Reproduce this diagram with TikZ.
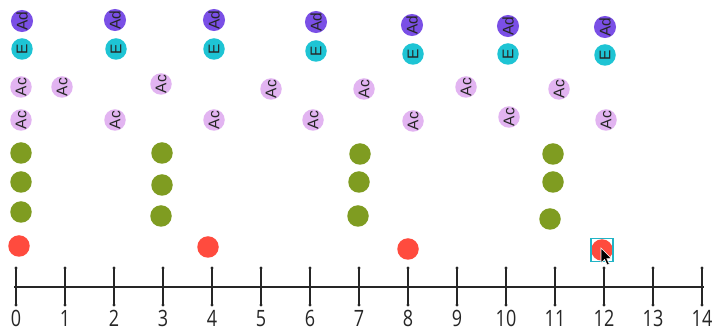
\documentclass[tikz,border=0pt]{standalone}
\usepackage{fontspec}
\setmainfont{Open Sans}
\newfontfamily\arialf{Liberation Sans}
\definecolor{adc}{HTML}{7A4FE6}
\definecolor{ec}{HTML}{1EC4D4}
\definecolor{acc}{HTML}{E2B4F1}
\definecolor{grn}{HTML}{7F9C21}
\definecolor{redc}{HTML}{FF4B3E}
\definecolor{selc}{HTML}{22B4C6}
\tikzset{
  dotbase/.style={circle, minimum size=21.5pt, inner sep=0pt, draw=none},
  lettered/.style={rotate=90, text=black!85, font=\arialf\fontsize{15.5}{15.5}\selectfont},
  adnode/.style={dotbase, fill=adc, lettered},
  enode/.style={dotbase, fill=ec, lettered},
  acnode/.style={dotbase, fill=acc, lettered},
  gnode/.style={dotbase, fill=grn},
  rnode/.style={dotbase, fill=redc},
  tickline/.style={line width=1.4pt, black!85},
  tickend/.style={circle, fill=black!85, inner sep=0pt, minimum size=3.2pt},
  axisline/.style={line width=2pt, black!85},
  numlbl/.style={anchor=base, inner sep=0pt, text=black!85, font=\fontsize{18}{18}\selectfont},
}
\begin{document}
\begin{tikzpicture}[x=1pt,y=-1pt]
\useasboundingbox[fill=white] (0,0) rectangle (713,328);
% Ad row
\foreach \n/\x/\y in {0/22/21,2/115/20,4/214/20,6/316/22,8/412/25,10/508/26,12/605/27}
  \node[adnode] (ad\n) at (\x,\y) {Ad};
% E row
\foreach \n/\x/\y in {0/22/49,2/116/49,4/214/49,6/316/51,8/413/54,10/508/54,12/605/55}
  \node[enode] (e\n) at (\x,\y) {E};
% Ac row 1
\foreach \n/\x/\y in {0/21/87,1/62/87,3/161/84,5/271/89,7/364/89,9/466/87,11/559/89}
  \node[acnode] (aca\n) at (\x,\y) {Ac};
% Ac row 2
\foreach \n/\x/\y in {0/21/120,2/115/120,4/214/120,6/313/120,8/413/121,10/509/117,12/606/120}
  \node[acnode] (acb\n) at (\x,\y) {Ac};
% green
\foreach \n/\x/\y in {0a/21/153,0b/21/182,0c/21/212,3a/162/153,3b/162/185,3c/161/216,7a/360/154,7b/359/182,7c/358/216,11a/553/154,11b/553/182,11c/550/219}
  \node[gnode] (g\n) at (\x,\y) {};
% red
\foreach \n/\x/\y in {0/19/246,4/208/247,8/408/249,12/602/250}
  \node[rnode] (r\n) at (\x,\y) {};
% selection box
\node[draw=selc, line width=1.3pt, minimum width=22pt, minimum height=23pt, inner sep=0pt] (sel) at (r12) {};
% axis
\coordinate (axL) at (14,287);
\coordinate (axR) at (704,287);
\draw[axisline] (axL) -- (axR);
\foreach \i in {0,...,14}{
  \pgfmathsetmacro\xx{16+49*\i}
  \coordinate (tt\i) at (\xx,268);
  \coordinate (tb\i) at (\xx,305);
  \draw[tickline] (tt\i) -- (tb\i);
  \node[tickend] at (tt\i) {};
  \node[tickend] at (tb\i) {};
  \node[numlbl] (n\i) at (\xx,327) {\scalebox{1}[1.25]{\i}};
}
\draw[line width=2.4pt, black!85] (tt7) -- (tb7);
% cursor
\coordinate (cur) at (601,248);
\fill[black, draw=white, line width=0.6pt, shift={(cur)}]
  (0,0) -- (0,15) -- (3.6,11.5) -- (6.2,17) -- (8.4,16) -- (5.8,10.6) -- (10.5,10.6) -- cycle;
\end{tikzpicture}
\end{document}
